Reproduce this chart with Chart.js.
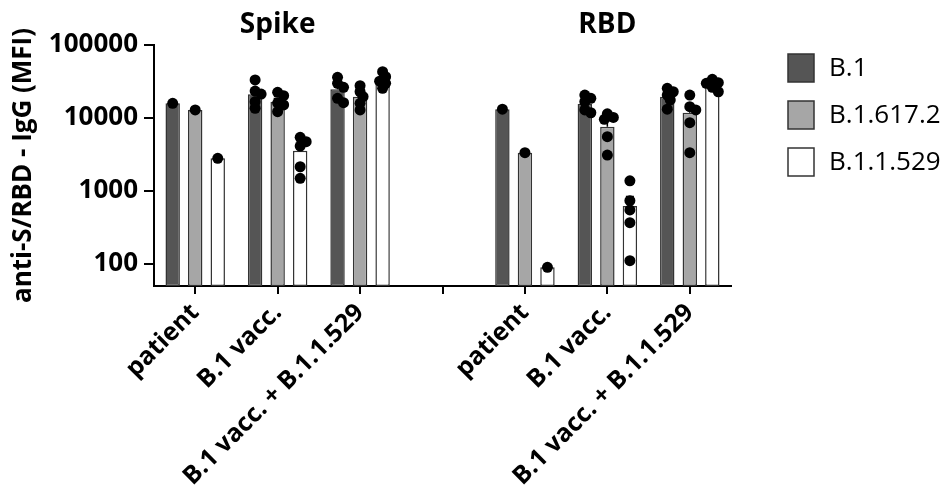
<!DOCTYPE html>
<html lang="en">
<head>
  <meta charset="UTF-8">
  <title>anti-S/RBD IgG</title>
  <script src="https://cdn.jsdelivr.net/npm/chart.js"></script>
  <style>
    body { margin: 0; background: #fff; }
    #wrap { width: 945px; height: 500px; }
  </style>
</head>
<body>
<div id="wrap"><canvas id="mfiChart" width="945" height="500"></canvas></div>
<script>
const groups = ['patient', 'B.1 vacc.', 'B.1 vacc. + B.1.1.529', '', 'patient', 'B.1 vacc.', 'B.1 vacc. + B.1.1.529'];
const panels = ['Spike', 'RBD'];
const variants = ['B.1', 'B.1.617.2', 'B.1.1.529'];
const yTicks = [100, 1000, 10000, 100000];

// bar heights (MFI)
const barB1 = [15900, 21100, 24700, null, 13200, 15600, 19600];
const barDelta = [12900, 16700, 19600, null, 3350, 7600, 11800];
const barOmicron = [2800, 3560, 32400, null, 90, 624, 28300];

// single donors
const dotsB1 = [[15900], [33200, 23400, 21300, 16700, 13600], [36100, 29900, 26300, 18600, 16200], [], [13200], [20600, 18600, 16700, 12900, 11800], [25500, 22900, 20600, 17700, 13200]];
const dotsDelta = [[12900], [22500, 20200, 16000, 15100, 12200], [27700, 22900, 19600, 15900, 12900], [], [3350], [11400, 10200, 9600, 5540, 3110], [20600, 14300, 12900, 8630, 3350]];
const dotsOmicron = [[2800], [5440, 4740, 4130, 2150, 1490], [43100, 36800, 32000, 29900, 25500], [], [90], [1380, 736, 550, 368, 111], [33900, 30500, 29900, 26300, 22900]];

const fills = ['#555555', '#a6a6a6', '#ffffff'];
const bars = [barB1, barDelta, barOmicron];
const dotSets = [dotsB1, dotsDelta, dotsOmicron];

function sem(vals) {
  const m = vals.reduce((a, b) => a + b, 0) / vals.length;
  const sd = Math.sqrt(vals.reduce((a, b) => a + (b - m) * (b - m), 0) / (vals.length - 1));
  return sd / Math.sqrt(vals.length);
}

// mean + SEM whisker on each bar
const errorBars = {
  id: 'errorBars',
  afterDatasetDraw(chart, args) {
    const ctx = chart.ctx;
    const y = chart.scales.y;
    dotSets[args.index].forEach((vals, i) => {
      if (vals.length < 2) return;
      const bar = args.meta.data[i];
      const py = y.getPixelForValue(bars[args.index][i] + sem(vals));
      ctx.save();
      ctx.strokeStyle = '#000';
      ctx.lineWidth = 1.5;
      ctx.beginPath();
      ctx.moveTo(bar.x, bar.y);
      ctx.lineTo(bar.x, py);
      ctx.moveTo(bar.x - 4, py);
      ctx.lineTo(bar.x + 4, py);
      ctx.stroke();
      ctx.restore();
    });
  }
};

// donor dots, nudged sideways when they overlap
const donorDots = {
  id: 'donorDots',
  afterDatasetsDraw(chart) {
    const ctx = chart.ctx;
    const y = chart.scales.y;
    ctx.save();
    ctx.fillStyle = '#000';
    dotSets.forEach((sets, k) => {
      const meta = chart.getDatasetMeta(k);
      sets.forEach((vals, i) => {
        const cx = meta.data[i].x;
        const placed = [];
        vals.forEach(v => {
          const py = y.getPixelForValue(v);
          const clash = o => placed.some(p => Math.hypot(p.o - o, p.y - py) < 5.5);
          let off = 0, n = 0;
          while (clash(off) && n < 4) {
            n++;
            off = (n % 2 ? 1 : -1) * Math.ceil(n / 2) * 3;
          }
          placed.push({ o: off, y: py });
          ctx.beginPath();
          ctx.arc(cx + off, py, 5.5, 0, Math.PI * 2);
          ctx.fill();
        });
      });
    });
    ctx.restore();
  }
};

const panelTitles = {
  id: 'panelTitles',
  afterDraw(chart) {
    const ctx = chart.ctx;
    const x = chart.scales.x;
    ctx.save();
    ctx.font = "bold 28px 'Open Sans', sans-serif";
    ctx.fillStyle = '#000';
    ctx.textAlign = 'center';
    ctx.textBaseline = 'middle';
    ctx.fillText(panels[0], x.getPixelForTick(1), 25);
    ctx.fillText(panels[1], x.getPixelForTick(5), 25);
    ctx.restore();
  }
};

const sideLegend = {
  id: 'sideLegend',
  afterDraw(chart) {
    const ctx = chart.ctx;
    ctx.save();
    ctx.font = "26px 'Open Sans', sans-serif";
    ctx.textBaseline = 'middle';
    chart.data.datasets.forEach((ds, k) => {
      const top = 54 + k * 47;
      ctx.fillStyle = ds.backgroundColor;
      ctx.fillRect(788, top, 26, 28);
      ctx.strokeStyle = '#333';
      ctx.lineWidth = 1.5;
      ctx.strokeRect(788, top, 26, 28);
      ctx.fillStyle = '#000';
      ctx.fillText(ds.label, 829, top + 15);
    });
    ctx.restore();
  }
};

Chart.defaults.font.family = "'Open Sans', sans-serif";
Chart.defaults.color = '#000';

new Chart(document.getElementById('mfiChart'), {
  type: 'bar',
  data: {
    labels: groups,
    datasets: variants.map((name, k) => ({
      label: name,
      data: bars[k],
      backgroundColor: fills[k],
      borderColor: '#333',
      borderWidth: 1.5,
      borderSkipped: false,
      categoryPercentage: 0.82,
      barPercentage: 0.64
    }))
  },
  options: {
    responsive: false,
    animation: false,
    layout: { padding: { top: 45, right: 214, left: 0, bottom: 0 } },
    plugins: { legend: { display: false }, tooltip: { enabled: false } },
    scales: {
      x: {
        grid: { display: true, drawOnChartArea: false, offset: false, tickLength: 8, color: '#000', lineWidth: 2 },
        border: { display: true, color: '#000', width: 2 },
        ticks: { autoSkip: false, minRotation: 45, maxRotation: 45, padding: 4, font: { size: 25, weight: 'bold' } },
        afterFit: s => { s.height = 214; }
      },
      y: {
        type: 'logarithmic',
        min: 50,
        max: 100000,
        afterBuildTicks: s => { s.ticks = yTicks.map(v => ({ value: v })); },
        afterFit: s => { s.width = 154; },
        grid: { display: true, drawOnChartArea: false, tickLength: 10, color: '#000', lineWidth: 2 },
        border: { display: true, color: '#000', width: 2 },
        ticks: { padding: 6, font: { size: 26, weight: 'bold' }, callback: v => String(v) },
        title: { display: true, text: 'anti-S/RBD - IgG (MFI)', padding: { top: 8, bottom: 0 }, font: { size: 26, weight: 'bold' } }
      }
    }
  },
  plugins: [errorBars, donorDots, panelTitles, sideLegend]
});
</script>
</body>
</html>
